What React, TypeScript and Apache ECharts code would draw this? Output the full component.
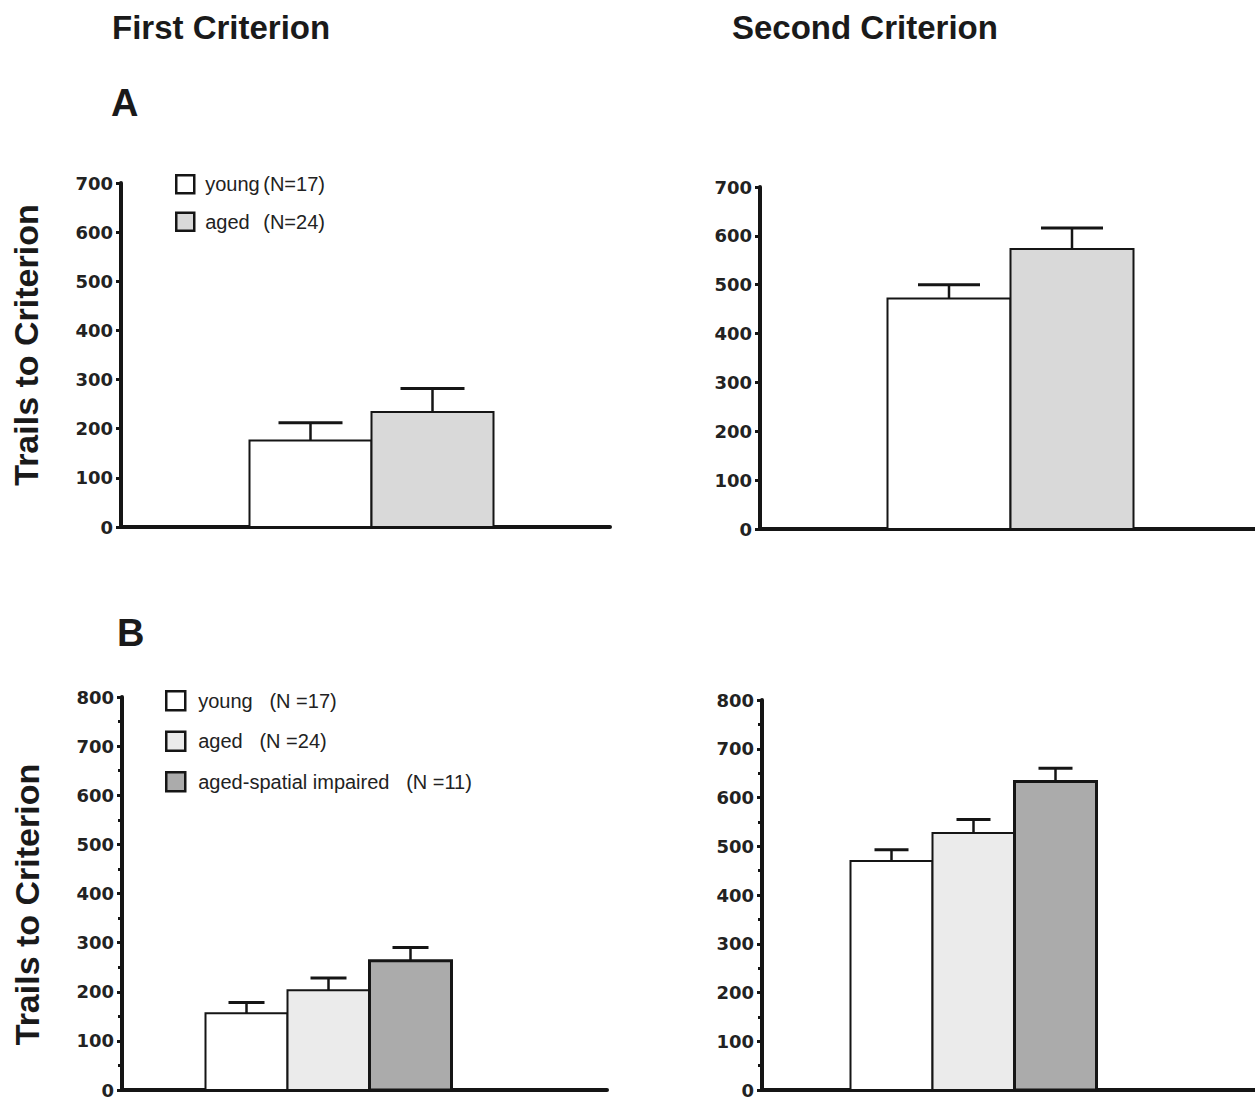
import React, { useEffect, useRef } from "react";
import * as echarts from "echarts";

// ---------- data ----------
const panelTitles = ["First Criterion", "Second Criterion"];
const rowLabels = ["A", "B"];
const yAxisTitle = "Trails to Criterion";

const groupsA = ["young", "aged"];
const countsA = ["(N=17)", "(N=24)"];
const groupsB = ["young", "aged", "aged-spatial impaired"];
const countsB = ["(N =17)", "(N =24)", "(N =11)"];

// A: first criterion / second criterion (mean, SEM)
const meanA1 = [176, 234];
const semA1 = [36, 48];
const meanA2 = [472, 573];
const semA2 = [28, 43];
// B
const meanB1 = [156, 203, 263];
const semB1 = [22, 25, 27];
const meanB2 = [470, 527, 633];
const semB2 = [23, 28, 27];

const yMaxA = 700;
const yMaxB = 800;
const yStep = 100;

// ---------- styles / layout ----------
const INK = "#151515";
const fillsA = ["#ffffff", "#d9d9d9"];
const fillsB = ["#ffffff", "#ebebeb", "#ababab"];
const borderB = [2, 2, 3];
const legendFont = "'Liberation Sans', Arial, Helvetica, sans-serif";
const boldFont = "'Liberation Sans', Arial, Helvetica, sans-serif";

type Panel = {
  grid: { left: number; top: number; width: number; height: number };
  means: number[];
  sems: number[];
  names: string[];
  fills: string[];
  borders: number[];
  yMax: number;
  barW: number;
  shift: number;
  capW: number;
  minor: boolean;
  title: boolean;
  titlePad: number[];
};

const panels: Panel[] = [
  { grid: { left: 121, top: 183, width: 489, height: 344 }, means: meanA1, sems: semA1, names: groupsA, fills: fillsA, borders: [2, 2], yMax: yMaxA, barW: 122, shift: 6, capW: 64, minor: false, title: true, titlePad: [0, 0, 0, 20] },
  { grid: { left: 760, top: 187, width: 495, height: 342 }, means: meanA2, sems: semA2, names: groupsA, fills: fillsA, borders: [2, 2], yMax: yMaxA, barW: 123, shift: 3, capW: 62, minor: false, title: false, titlePad: [0, 0, 0, 0] },
  { grid: { left: 122, top: 697, width: 485, height: 394 }, means: meanB1, sems: semB1, names: groupsB, fills: fillsB, borders: borderB, yMax: yMaxB, barW: 82, shift: -36, capW: 36, minor: true, title: true, titlePad: [0, 22, 0, 0] },
  { grid: { left: 762, top: 700, width: 493, height: 393 }, means: meanB2, sems: semB2, names: groupsB, fills: fillsB, borders: borderB, yMax: yMaxB, barW: 82, shift: -35, capW: 34, minor: true, title: false, titlePad: [0, 0, 0, 0] },
];

function makeRender(p: Panel, gi: number) {
  const n = p.means.length;
  return (_params: any, api: any) => {
    const xi = api.value(0);
    const mean = api.value(1);
    const sem = api.value(2);
    const base = api.coord([xi, 0]);
    const top = api.coord([xi, mean]);
    const err = api.coord([xi, mean + sem]);
    const cx = base[0] + p.shift + (gi - (n - 1) / 2) * p.barW;
    return {
      type: "group",
      children: [
        {
          type: "line",
          shape: { x1: cx, y1: top[1], x2: cx, y2: err[1] },
          style: { stroke: INK, lineWidth: 2.5 },
        },
        {
          type: "line",
          shape: { x1: cx - p.capW / 2, y1: err[1], x2: cx + p.capW / 2, y2: err[1] },
          style: { stroke: INK, lineWidth: 3 },
        },
        {
          type: "rect",
          shape: { x: cx - p.barW / 2, y: top[1], width: p.barW, height: base[1] - top[1] },
          style: { fill: p.fills[gi], stroke: INK, lineWidth: p.borders[gi] },
        },
      ],
    };
  };
}

function buildOption() {
  const grids: any[] = [];
  const xAxes: any[] = [];
  const yAxes: any[] = [];
  const series: any[] = [];

  panels.forEach((p, pi) => {
    grids.push({ ...p.grid, containLabel: false });
    xAxes.push({
      type: "category",
      gridIndex: pi,
      data: [""],
      axisLine: { show: true, lineStyle: { color: INK, width: 4 } },
      axisTick: { show: false },
      axisLabel: { show: false },
      splitLine: { show: false },
    });
    yAxes.push({
      type: "value",
      gridIndex: pi,
      min: 0,
      max: p.yMax,
      interval: yStep,
      name: p.title ? yAxisTitle : "",
      nameLocation: "middle",
      nameRotate: 90,
      nameGap: 78,
      nameTextStyle: { fontFamily: boldFont, fontWeight: "bold", fontSize: 34, color: "#1a1a1a", padding: p.titlePad },
      axisLine: { show: true, lineStyle: { color: INK, width: 4 } },
      axisTick: { show: true, inside: false, length: 5, lineStyle: { color: INK, width: 3 } },
      minorTick: { show: p.minor, splitNumber: 2, length: 4, lineStyle: { color: INK, width: 3 } },
      axisLabel: {
        fontFamily: "'DejaVu Sans', sans-serif",
        fontWeight: "bold",
        fontSize: 18,
        color: "#222",
        margin: 8,
      },
      splitLine: { show: false },
    });
    p.means.forEach((m, gi) => {
      series.push({
        type: "custom",
        name: `${pi < 2 ? "A" : "B"}:${p.names[gi]}`,
        xAxisIndex: pi,
        yAxisIndex: pi,
        renderItem: makeRender(p, gi),
        encode: { x: 0, y: [1] },
        itemStyle: { color: p.fills[gi], borderColor: INK, borderWidth: p.borders[gi] },
        data: [[0, m, p.sems[gi], m + p.sems[gi]]],
        dimensions: ["x", "mean", "sem", "top"],
        z: 2 + gi,
      });
    });
  });

  const legendA = {
    orient: "vertical",
    left: 175,
    top: 174,
    padding: 0,
    itemWidth: 18,
    itemHeight: 18,
    itemGap: 17,
    icon: "rect",
    selectedMode: false,
    data: groupsA.map((g, i) => ({
      name: `A:${g}`,
      itemStyle: { color: fillsA[i], borderColor: INK, borderWidth: 2.5 },
    })),
    formatter: (name: string) => {
      const i = groupsA.indexOf(name.slice(2));
      return `{n|${groupsA[i]}}{c|${countsA[i]}}`;
    },
    textStyle: {
      fontFamily: legendFont,
      fontSize: 20,
      color: "#222",
      padding: [0, 0, 0, 6],
      rich: {
        n: { fontFamily: legendFont, fontSize: 20, color: "#222", width: 58 },
        c: { fontFamily: legendFont, fontSize: 20, color: "#222" },
      },
    },
  };

  const legendB = {
    orient: "vertical",
    left: 165,
    top: 690,
    padding: 0,
    itemWidth: 19,
    itemHeight: 19,
    itemGap: 19,
    icon: "rect",
    selectedMode: false,
    data: groupsB.map((g, i) => ({
      name: `B:${g}`,
      itemStyle: { color: fillsB[i], borderColor: INK, borderWidth: 2.5 },
    })),
    formatter: (name: string) => {
      const i = groupsB.indexOf(name.slice(2));
      return `${groupsB[i]}   ${countsB[i]}`;
    },
    textStyle: {
      fontFamily: legendFont,
      fontSize: 20,
      color: "#222",
      padding: [0, 0, 0, 8],
    },
  };

  const titleStyle = { fontFamily: boldFont, fontWeight: "bold", fontSize: 33, color: "#1a1a1a" };
  const letterStyle = { fontFamily: boldFont, fontWeight: "bold", fontSize: 38, color: "#1a1a1a" };

  return {
    animation: false,
    backgroundColor: "#ffffff",
    title: [
      { text: panelTitles[0], left: 112, top: 11, textStyle: titleStyle, padding: 0 },
      { text: panelTitles[1], left: 732, top: 11, textStyle: titleStyle, padding: 0 },
      { text: rowLabels[0], left: 111, top: 84, textStyle: letterStyle, padding: 0 },
      { text: rowLabels[1], left: 117, top: 614, textStyle: letterStyle, padding: 0 },
    ],
    legend: [legendA, legendB],
    grid: grids,
    xAxis: xAxes,
    yAxis: yAxes,
    series,
  };
}

export default function App() {
  const ref = useRef<HTMLDivElement>(null);
  useEffect(() => {
    document.body.style.margin = "0";
    if (!ref.current) return;
    const chart = echarts.init(ref.current, undefined, { renderer: "svg" });
    chart.setOption(buildOption() as any);
    return () => chart.dispose();
  }, []);
  return <div ref={ref} style={{ width: 1255, height: 1099, background: "#fff" }} />;
}
